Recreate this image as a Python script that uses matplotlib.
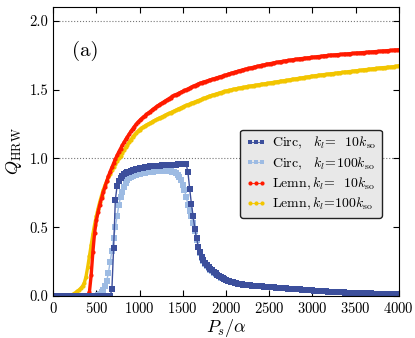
import numpy as np
import matplotlib.pyplot as plt

plt.rcParams['font.family'] = 'serif'
plt.rcParams['font.serif'] = ['cmr10', 'DejaVu Serif']
plt.rcParams['mathtext.fontset'] = 'cm'
plt.rcParams['axes.formatter.use_mathtext'] = True

# сетка по P_s/alpha (шаг 20)
ps = np.arange(0, 4001, 20)

# Circ, k_l = 10 k_so
circ10 = ([0.0] * 34 +
          [0.05, 0.35, 0.70, 0.80, 0.835, 0.86, 0.875, 0.885, 0.893, 0.90, 0.905, 0.91, 0.915, 0.919, 0.923, 0.926] +
          [0.929, 0.932, 0.934, 0.936, 0.938, 0.94, 0.942, 0.943, 0.944, 0.945, 0.946, 0.947, 0.948, 0.949,
           0.95, 0.951, 0.952, 0.953, 0.954, 0.954, 0.955, 0.956, 0.957, 0.957, 0.958, 0.958, 0.959, 0.958] +
          [0.90, 0.78, 0.67, 0.58, 0.49, 0.42, 0.36, 0.32, 0.285, 0.26, 0.24, 0.225, 0.21, 0.198, 0.186,
           0.175, 0.165, 0.156, 0.147, 0.139, 0.131, 0.124] +
          [0.118, 0.113, 0.108, 0.104, 0.100, 0.096, 0.093, 0.090, 0.088, 0.086, 0.084, 0.082, 0.080,
           0.079, 0.077, 0.076, 0.075, 0.074, 0.073, 0.072, 0.071, 0.070, 0.069, 0.068, 0.067] +
          [0.066, 0.065, 0.064, 0.063, 0.062, 0.061, 0.060, 0.059, 0.058, 0.057, 0.056, 0.055, 0.054,
           0.053, 0.052, 0.051, 0.050, 0.049, 0.048, 0.047, 0.046, 0.045, 0.044, 0.043, 0.042] +
          [0.041, 0.040, 0.039, 0.038, 0.037, 0.036, 0.035, 0.034, 0.034, 0.033, 0.032, 0.031, 0.031,
           0.030, 0.029, 0.029, 0.028, 0.027, 0.027, 0.026, 0.025, 0.025, 0.024, 0.024, 0.023] +
          [0.023, 0.022, 0.022, 0.021, 0.021, 0.020, 0.020, 0.019, 0.019, 0.019, 0.018, 0.018, 0.018,
           0.017, 0.017, 0.017, 0.016, 0.016, 0.016, 0.016, 0.015, 0.015, 0.015, 0.015, 0.014, 0.014])

# Circ, k_l = 100 k_so
circ100 = ([0.0] * 25 +
           [0.004, 0.008, 0.015, 0.03, 0.045, 0.07, 0.11, 0.17, 0.25, 0.33, 0.42, 0.50, 0.58, 0.66, 0.72,
            0.76, 0.795, 0.82, 0.84, 0.855, 0.865, 0.872, 0.878, 0.883, 0.887] +
           [0.89, 0.893, 0.895, 0.897, 0.899, 0.901, 0.903, 0.904, 0.905, 0.906, 0.907, 0.908, 0.909,
            0.909, 0.91, 0.91, 0.91, 0.909, 0.907, 0.904, 0.90, 0.893, 0.883, 0.868, 0.845] +
           [0.81, 0.77, 0.72, 0.665, 0.62, 0.58, 0.53, 0.47, 0.41, 0.355, 0.315, 0.28, 0.255, 0.235, 0.22,
            0.205, 0.193, 0.182, 0.171, 0.161, 0.152, 0.143, 0.135, 0.128, 0.121] +
           [0.118, 0.113, 0.108, 0.104, 0.100, 0.096, 0.093, 0.090, 0.088, 0.086, 0.084, 0.082, 0.080,
            0.079, 0.077, 0.076, 0.075, 0.074, 0.073, 0.072, 0.071, 0.070, 0.069, 0.068, 0.067] +
           [0.066, 0.065, 0.064, 0.063, 0.062, 0.061, 0.060, 0.059, 0.058, 0.057, 0.056, 0.055, 0.054,
            0.053, 0.052, 0.051, 0.050, 0.049, 0.048, 0.047, 0.046, 0.045, 0.044, 0.043, 0.042] +
           [0.041, 0.040, 0.039, 0.038, 0.037, 0.036, 0.035, 0.034, 0.034, 0.033, 0.032, 0.031, 0.031,
            0.030, 0.029, 0.029, 0.028, 0.027, 0.027, 0.026, 0.025, 0.025, 0.024, 0.024, 0.023] +
           [0.023, 0.022, 0.022, 0.021, 0.021, 0.020, 0.020, 0.019, 0.019, 0.019, 0.018, 0.018, 0.018,
            0.017, 0.017, 0.017, 0.016, 0.016, 0.016, 0.016, 0.015, 0.015, 0.015, 0.015, 0.014, 0.014])

# Lemn, k_l = 10 k_so
lemn10 = ([0.0] * 21 +
          [0.03, 0.15, 0.32, 0.46, 0.55, 0.61, 0.665, 0.71, 0.755, 0.795, 0.835, 0.87, 0.905, 0.935, 0.965,
           0.995, 1.022, 1.048, 1.072, 1.095, 1.117, 1.138, 1.158, 1.178, 1.197, 1.215, 1.232, 1.248, 1.263] +
          [1.276, 1.288, 1.299, 1.31, 1.32, 1.33, 1.34, 1.35, 1.36, 1.37, 1.379, 1.387, 1.395, 1.403, 1.411,
           1.419, 1.427, 1.435, 1.443, 1.451, 1.458, 1.464, 1.470, 1.476, 1.482, 1.488, 1.494, 1.500, 1.506,
           1.512, 1.518, 1.524, 1.530, 1.536, 1.542, 1.547, 1.551, 1.555, 1.559, 1.563, 1.567, 1.571, 1.575,
           1.579, 1.583, 1.587, 1.591, 1.595, 1.599, 1.603] +
          [1.607, 1.611, 1.615, 1.619, 1.623, 1.627, 1.630, 1.634, 1.638, 1.641, 1.645, 1.648, 1.651, 1.654,
           1.657, 1.660, 1.663, 1.666, 1.669, 1.672, 1.675, 1.678, 1.680, 1.683, 1.685, 1.688, 1.690, 1.693,
           1.695, 1.698, 1.700, 1.702, 1.704, 1.706, 1.708, 1.710, 1.712, 1.714, 1.716, 1.718, 1.720, 1.722,
           1.723, 1.725, 1.726, 1.728, 1.729, 1.731, 1.732, 1.734] +
          [1.735, 1.737, 1.738, 1.740, 1.741, 1.743, 1.744, 1.746, 1.747, 1.749, 1.750, 1.751, 1.752, 1.753,
           1.754, 1.755, 1.756, 1.757, 1.758, 1.759, 1.760, 1.761, 1.762, 1.763, 1.764, 1.765, 1.766, 1.767,
           1.768, 1.769, 1.770, 1.771, 1.772, 1.773, 1.774, 1.775, 1.776, 1.777, 1.778, 1.779, 1.780, 1.781,
           1.782, 1.783, 1.784, 1.785, 1.786, 1.787, 1.788, 1.789, 1.790])

# Lemn, k_l = 100 k_so
lemn100 = ([0.0] * 10 +
           [0.005, 0.01, 0.018, 0.026, 0.035, 0.045, 0.057, 0.072, 0.095, 0.14, 0.21, 0.29, 0.37, 0.45, 0.52,
            0.58, 0.635, 0.685, 0.73, 0.77, 0.805, 0.835, 0.865, 0.89, 0.915, 0.94, 0.96, 0.98, 1.0, 1.02,
            1.04, 1.06, 1.08, 1.099, 1.118, 1.137, 1.155, 1.17, 1.185, 1.198] +
           [1.21, 1.219, 1.228, 1.236, 1.243, 1.25, 1.257, 1.264, 1.271, 1.278, 1.285, 1.291, 1.297, 1.303,
            1.309, 1.315, 1.321, 1.327, 1.333, 1.339, 1.345, 1.351, 1.357, 1.363, 1.369, 1.375, 1.38, 1.386,
            1.391, 1.396, 1.401, 1.406, 1.411, 1.416, 1.421, 1.426, 1.431, 1.436, 1.441, 1.446, 1.451, 1.455,
            1.459, 1.463, 1.467, 1.471, 1.475, 1.479, 1.483, 1.487] +
           [1.49, 1.493, 1.496, 1.499, 1.502, 1.505, 1.507, 1.510, 1.512, 1.515, 1.517, 1.519, 1.522, 1.524,
            1.526, 1.528, 1.530, 1.532, 1.534, 1.536, 1.538, 1.540, 1.542, 1.544, 1.546, 1.548, 1.550, 1.552,
            1.554, 1.556, 1.558, 1.560, 1.562, 1.564, 1.566, 1.568, 1.570, 1.572, 1.574, 1.576, 1.578, 1.580,
            1.582, 1.584, 1.586, 1.588, 1.590, 1.592, 1.594, 1.596] +
           [1.598, 1.600, 1.602, 1.603, 1.605, 1.607, 1.608, 1.610, 1.611, 1.613, 1.614, 1.616, 1.617, 1.619,
            1.620, 1.622, 1.623, 1.625, 1.626, 1.628, 1.629, 1.631, 1.632, 1.634, 1.635, 1.637, 1.638, 1.640,
            1.641, 1.643, 1.644, 1.646, 1.647, 1.649, 1.650, 1.652, 1.653, 1.655, 1.656, 1.658, 1.659, 1.660,
            1.661, 1.662, 1.663, 1.664, 1.666, 1.667, 1.669, 1.671, 1.673])

labels = [r'Circ,$\quad k_l\!=\;\;10k_{\mathrm{so}}$',
          r'Circ,$\quad k_l\!=\!100k_{\mathrm{so}}$',
          r'Lemn,$\,k_l\!=\;\;10k_{\mathrm{so}}$',
          r'Lemn,$\,k_l\!=\!100k_{\mathrm{so}}$']

fig = plt.figure(figsize=(4.15, 3.38), dpi=100)
ax = fig.add_axes([0.128, 0.124, 0.833, 0.855])

ax.axhline(1.0, ls=':', color='#777777', lw=0.8, zorder=0)
ax.axhline(2.0, ls=':', color='#777777', lw=0.8, zorder=0)

hy, = ax.plot(ps, lemn100, 'o-', color='#f2c500', ms=3.0, lw=2.4, mew=0)
hr, = ax.plot(ps, lemn10, 'o-', color='#ff1a00', ms=3.0, lw=2.4, mew=0)
hl, = ax.plot(ps, circ100, 's-', color='#9dbbe3', ms=4.6, lw=1.0, mew=0)
hd, = ax.plot(ps, circ10, 's-', color='#3c4f9c', ms=4.6, lw=1.0, mew=0)

ax.set_xlim(0, 4000)
ax.set_ylim(0, 2.1)
ax.set_xticks(np.arange(0, 4001, 500))
ax.set_yticks([0.0, 0.5, 1.0, 1.5, 2.0])
ax.set_yticklabels(['0.0', '0.5', '1.0', '1.5', '2.0'])
ax.tick_params(direction='in', top=True, right=True, length=4, labelsize=10.5)
ax.set_xlabel(r'$P_s/\alpha$', fontsize=13, labelpad=1)
ax.set_ylabel(r'$Q_{\mathrm{HRW}}$', fontsize=13, labelpad=4)

ax.text(0.055, 0.85, '(a)', transform=ax.transAxes, fontsize=15, va='center')

leg = ax.legend([hd, hl, hr, hy], labels, loc='upper left', bbox_to_anchor=(0.52, 0.6),
                numpoints=3, handlelength=1.5, handletextpad=0.4, fontsize=10,
                fancybox=True, framealpha=1, facecolor='#e8e8e8', edgecolor='#222222',
                borderpad=0.4, labelspacing=0.3)
leg.get_frame().set_linewidth(1.0)
for h, m in zip(leg.legend_handles, [3.4, 3.4, 3.0, 3.0]):
    h.set_markersize(m)
    h.set_linewidth(0.6)

fig.savefig('out.png', dpi=100)
